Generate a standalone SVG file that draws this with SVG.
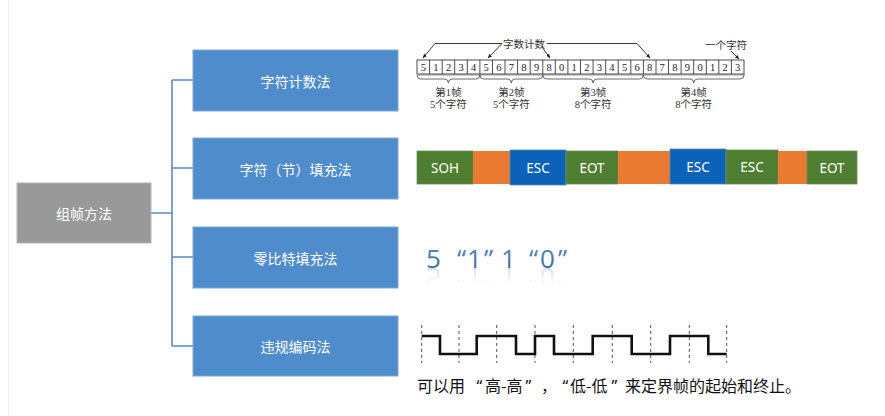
<svg xmlns="http://www.w3.org/2000/svg" xmlns:xlink="http://www.w3.org/1999/xlink" width="885" height="416" viewBox="0 0 885 416">
<style>
.blue{fill:#4f8ccb;stroke:#7aa7d9;stroke-width:1}
.lbl{font-family:"Noto Sans CJK SC","Noto Sans",sans-serif;font-size:14px;fill:#fff;text-anchor:middle;dominant-baseline:central}
.conn{fill:none;stroke:#5b8ac7;stroke-width:1.6}
.cell{fill:#fff;stroke:#222;stroke-width:0.8}
.dig{font-family:"Liberation Serif","Noto Sans CJK SC",serif;font-size:10.5px;fill:#222;text-anchor:middle}
.cap{font-family:"Liberation Serif","Noto Sans CJK SC",serif;font-size:10.5px;fill:#333;text-anchor:middle}
.brace{fill:none;stroke:#444;stroke-width:0.8}
.arr{fill:none;stroke:#222;stroke-width:0.9}
.st{font-family:"Noto Sans","Open Sans",sans-serif;font-size:13.5px;fill:#fff;text-anchor:middle;dominant-baseline:central}
.z{font-family:"Open Sans","Noto Sans",sans-serif;font-size:26px}
.dash{stroke:#555;stroke-width:1;stroke-dasharray:3,3}
.bt{font-family:"Noto Sans CJK SC",sans-serif;font-size:16px;fill:#111}
.q{font-family:"Noto Sans",sans-serif}
</style>
<defs>
<marker id="ah" viewBox="0 0 10 10" refX="9" refY="5" markerWidth="5" markerHeight="5" orient="auto"><path d="M0,1 L10,5 L0,9 z" fill="#222"/></marker>
<linearGradient id="fg" x1="0" y1="0" x2="0" y2="1"><stop offset="0" stop-color="#fff" stop-opacity="0.35"/><stop offset="1" stop-color="#fff" stop-opacity="0"/></linearGradient>
<linearGradient id="tg" x1="0" y1="0" x2="0" y2="1"><stop offset="0" stop-color="#5a8fcb"/><stop offset="1" stop-color="#34659c"/></linearGradient>
<mask id="fade" maskUnits="userSpaceOnUse" x="420" y="268" width="160" height="16"><rect x="420" y="268" width="160" height="16" fill="url(#fg)"/></mask>
</defs>
<rect width="885" height="416" fill="#fff"/>
<line x1="8.5" y1="0" x2="8.5" y2="416" stroke="#f0f0f0" stroke-width="1"/>

<g id="connectors">
<path class="conn" d="M151,213 H172 M172,80 V346 M172,80 H193 M172,168 H193 M172,257 H193 M172,346 H193"/>
</g>

<g id="root"><rect x="17" y="183" width="134" height="60" fill="#999" stroke="#b5b5b5"/><text class="lbl" x="84" y="213">组帧方法</text></g>
<g id="n1"><rect class="blue" x="193" y="50" width="205" height="61"/><text class="lbl" x="295.5" y="80.5">字符计数法</text></g>
<g id="n2"><rect class="blue" x="193" y="138" width="205" height="61"/><text class="lbl" x="295.5" y="168.5">字符（节）填充法</text></g>
<g id="n3"><rect class="blue" x="193" y="227" width="205" height="61"/><text class="lbl" x="295.5" y="257.5">零比特填充法</text></g>
<g id="n4"><rect class="blue" x="193" y="316" width="205" height="60"/><text class="lbl" x="295.5" y="346">违规编码法</text></g>

<g id="count">
<line x1="418" y1="75" x2="745" y2="75" stroke="#999" stroke-width="1.2"/>
<g id="cells">
<rect class="cell" x="417" y="60" width="327" height="14"/>
<path stroke="#222" stroke-width="0.8" d="M429.6,60V74M442.2,60V74M454.7,60V74M467.3,60V74M479.9,60V74M492.5,60V74M505,60V74M517.6,60V74M530.2,60V74M542.8,60V74M555.3,60V74M567.9,60V74M580.5,60V74M593.1,60V74M605.7,60V74M618.2,60V74M630.8,60V74M643.4,60V74M656,60V74M668.5,60V74M681.1,60V74M693.7,60V74M706.3,60V74M718.8,60V74M731.4,60V74"/>
<g class="dig">
<text x="423.3" y="71">5</text><text x="435.9" y="71">1</text><text x="448.5" y="71">2</text><text x="461" y="71">3</text><text x="473.6" y="71">4</text>
<text x="486.2" y="71">5</text><text x="498.8" y="71">6</text><text x="511.3" y="71">7</text><text x="523.9" y="71">8</text><text x="536.5" y="71">9</text>
<text x="549.1" y="71">8</text><text x="561.6" y="71">0</text><text x="574.2" y="71">1</text><text x="586.8" y="71">2</text><text x="599.4" y="71">3</text><text x="611.9" y="71">4</text><text x="624.5" y="71">5</text><text x="637.1" y="71">6</text>
<text x="649.7" y="71">8</text><text x="662.2" y="71">7</text><text x="674.8" y="71">8</text><text x="687.4" y="71">9</text><text x="700" y="71">0</text><text x="712.5" y="71">1</text><text x="725.1" y="71">2</text><text x="737.7" y="71">3</text>
</g>
</g>
<path class="brace" d="M417,75 q0,4 4,4 H444.4 q4,0 4,4 q0,-4 4,-4 H475.9 q4,0 4,-4"/>
<path class="brace" d="M479.9,75 q0,4 4,4 H507.3 q4,0 4,4 q0,-4 4,-4 H538.8 q4,0 4,-4"/>
<path class="brace" d="M542.8,75 q0,4 4,4 H589.1 q4,0 4,4 q0,-4 4,-4 H639.4 q4,0 4,-4"/>
<path class="brace" d="M643.4,75 q0,4 4,4 H689.7 q4,0 4,4 q0,-4 4,-4 H740 q4,0 4,-4"/>
<g class="cap">
<text x="448.4" y="96">第1帧</text><text x="448.4" y="108">5个字符</text>
<text x="511.3" y="96">第2帧</text><text x="511.3" y="108">5个字符</text>
<text x="593.1" y="96">第3帧</text><text x="593.1" y="108">8个字符</text>
<text x="693.7" y="96">第4帧</text><text x="693.7" y="108">8个字符</text>
</g>
<text class="cap" x="524" y="48">字数计数</text>
<text class="cap" x="726" y="49">一个字符</text>
<path class="arr" d="M502,43.5 H435 L423,58" marker-end="url(#ah)"/>
<path class="arr" d="M502,43.5 L488,58" marker-end="url(#ah)"/>
<path class="arr" d="M547,43.5 H637 L650,58" marker-end="url(#ah)"/>
<path class="arr" d="M542,47 L550,58" marker-end="url(#ah)"/>
<path class="arr" d="M731,51 L739,59" marker-end="url(#ah)"/>
</g>

<g id="stuffing">
<rect x="417" y="151" width="56" height="33" fill="#4e7e2f" stroke="#6c8f56" stroke-width="0.8"/>
<rect x="473" y="151" width="37" height="33" fill="#e97a30"/>
<rect x="510" y="150" width="56" height="35" fill="#0b62b8" stroke="#5d89b8" stroke-width="0.8"/>
<rect x="566" y="151" width="52" height="33" fill="#4e7e2f" stroke="#6c8f56" stroke-width="0.8"/>
<rect x="618" y="151" width="52" height="33" fill="#e97a30"/>
<rect x="670" y="149" width="56" height="35" fill="#0b62b8" stroke="#5d89b8" stroke-width="0.8"/>
<rect x="726" y="150" width="52" height="34" fill="#4e7e2f" stroke="#6c8f56" stroke-width="0.8"/>
<rect x="778" y="151" width="29" height="33" fill="#e97a30"/>
<rect x="807" y="151" width="50" height="33" fill="#4e7e2f" stroke="#6c8f56" stroke-width="0.8"/>
<text class="st" x="445" y="167.5">SOH</text>
<text class="st" x="538" y="167.5">ESC</text>
<text class="st" x="592" y="167.5">EOT</text>
<text class="st" x="698" y="166.5">ESC</text>
<text class="st" x="752" y="166.5">ESC</text>
<text class="st" x="832" y="167.5">EOT</text>
</g>

<g id="zerobit">
<text id="zbt" class="z" y="268" fill="url(#tg)" x="426 457 467 484 501 529 540 558">5“1”1“0”</text>
<g mask="url(#fade)" opacity="0.7"><use xlink:href="#zbt" transform="translate(0,536) scale(1,-1)"/></g>
</g>

<g id="wave">
<path class="dash" d="M421.7,325V363M459,325V363M496.7,325V363M535,325V363M573.3,325V363M612.3,325V363M650.7,325V363M689.3,325V363M726.7,325V363"/>
<path d="M421.7,336 H440 V354 H476.7 V336 H516 V354 H535 V336 H554 V354 H592.7 V336 H631.7 V354 H670 V336 H708.3 V354 H726.7" fill="none" stroke="#111" stroke-width="2.6"/>
<text class="bt" y="392"><tspan x="417">可以用</tspan><tspan class="q" x="476.5">“</tspan><tspan x="485">高-高</tspan><tspan class="q" x="525.5">”</tspan><tspan x="541">，</tspan><tspan class="q" x="562.5">“</tspan><tspan x="570">低-低</tspan><tspan class="q" x="611.5">”</tspan><tspan x="625">来定界帧的起始和终止。</tspan></text>
</g>
</svg>
